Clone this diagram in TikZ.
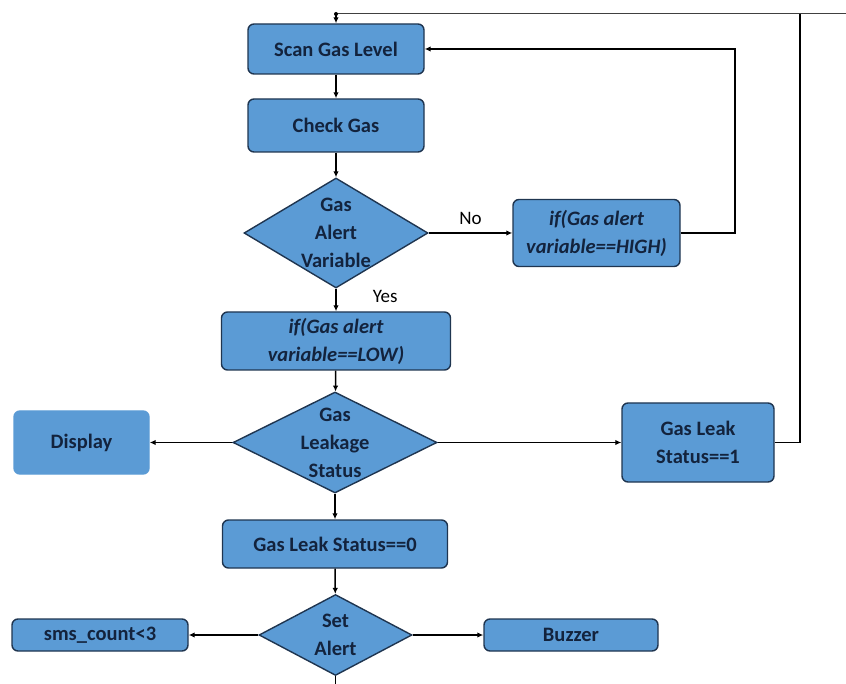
\documentclass[tikz,border=0pt]{standalone}
\usepackage{fontspec}
\setmainfont{Carlito}
\usetikzlibrary{shapes.geometric,arrows.meta}
\definecolor{boxfill}{HTML}{5B9BD5}
\definecolor{boxline}{HTML}{1F3550}
\definecolor{txt}{HTML}{13233D}
\begin{document}
\begin{tikzpicture}[x=1pt,y=-1pt,
  box/.style={draw=boxline, line width=1.4pt, fill=boxfill, rounded corners=6pt, text=txt,
    font=\fontsize{20.5}{28}\selectfont\bfseries, align=center, inner sep=0pt},
  dia/.style={diamond, draw=boxline, line width=1.4pt, fill=boxfill, inner sep=0pt},
  dtext/.style={text=txt, font=\fontsize{20.5}{28}\selectfont\bfseries, align=center, inner sep=0pt},
  lbl/.style={text=black, font=\fontsize{19}{22}\selectfont, inner sep=0pt},
  arr/.style={-{Latex[length=6pt,width=5.5pt]}, line width=1.5pt, black},
  conn/.style={line width=1.5pt, black}]
\useasboundingbox (0,0) rectangle (846,684);
% nodes
\node[box, minimum width=176pt, minimum height=50pt] (scan) at (336,49) {Scan Gas Level};
\node[box, minimum width=176pt, minimum height=53pt] (check) at (336,125.5) {Check Gas};
\node[dia, minimum width=184pt, minimum height=110pt] (d1) at (336,233) {};
\node[dtext] at (d1) {Gas\\Alert\\Variable};
\node[box, minimum width=167pt, minimum height=67pt, font=\fontsize{20.5}{28}\selectfont\bfseries\itshape] (high) at (596.5,233) {if(Gas alert\\variable==HIGH)};
\node[box, minimum width=229pt, minimum height=58pt, font=\fontsize{20.5}{28}\selectfont\bfseries\itshape] (low) at (336,341) {if(Gas alert\\variable==LOW)};
\node[dia, minimum width=204pt, minimum height=101pt] (d2) at (335,442.5) {};
\node[dtext] at (d2) {Gas\\Leakage\\Status};
\node[box, draw=boxfill, minimum width=135pt, minimum height=63pt] (disp) at (81.5,442.5) {Display};
\node[box, minimum width=152pt, minimum height=79pt] (s1) at (698,442.5) {Gas Leak\\Status==1};
\node[box, minimum width=225pt, minimum height=48pt] (s0) at (335,544) {Gas Leak Status==0};
\node[dia, minimum width=153pt, minimum height=81pt] (d3) at (335.5,635) {};
\node[dtext] at (d3) {Set\\Alert};
\node[box, minimum width=176pt, minimum height=32pt] (sms) at (100,635) {sms\_count<3};
\node[box, minimum width=174pt, minimum height=32pt] (buzz) at (571,635) {Buzzer};
% coordinates
\coordinate (top) at (336,14);
\coordinate (topR) at (846,14);
\coordinate (vR) at (800,14);
\coordinate (loopH) at (735,233);
\coordinate (bot) at (335.5,684);
% connectors
\draw[line width=1pt, black!75] (top) -- (topR);
\fill (top) circle (2pt);
\draw[arr] (top) -- (scan.north);
\draw[arr] (scan) -- (check);
\draw[arr] (check) -- (d1);
\draw[arr] (d1.east) -- node[lbl, above=8pt] {No} (high.west);
\draw[arr] (high.east) -- (loopH) |- (scan.east);
\draw[arr] (d1.south) -- node[lbl, right=36pt, pos=0.35] {Yes} (low.north);
\draw[arr] (low) -- (d2);
\draw[arr] (d2.west) -- (disp.east);
\draw[arr] (d2.east) -- (s1.west);
\draw[conn] (s1.east) -| (vR);
\draw[arr] (d2.south) -- (s0.north);
\draw[arr] (s0) -- (d3);
\draw[arr] (d3.west) -- (sms.east);
\draw[arr] (d3.east) -- (buzz.west);
\draw[conn] (d3.south) -- (bot);
\end{tikzpicture}
\end{document}
